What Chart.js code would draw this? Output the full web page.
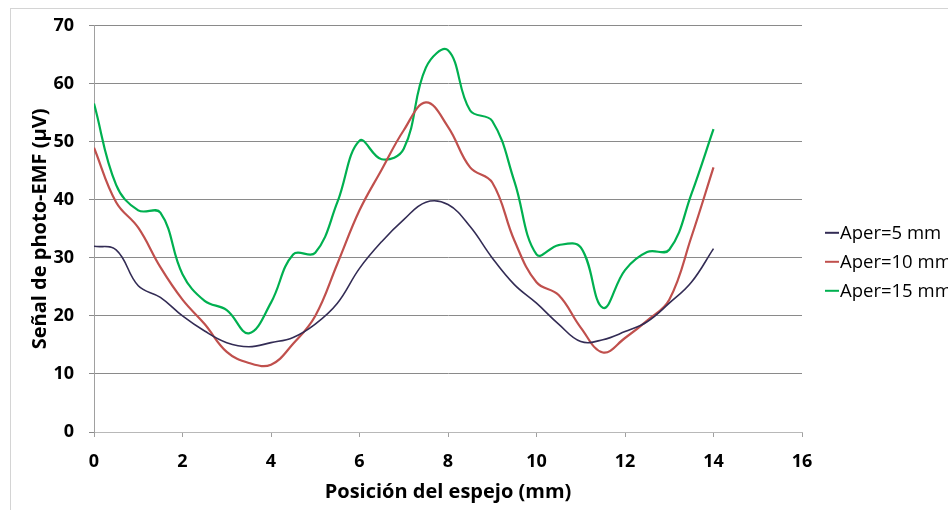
<!DOCTYPE html>
<html>
<head>
<meta charset="utf-8">
<script src="https://cdn.jsdelivr.net/npm/chart.js@4"></script>
<style>
  html, body { margin: 0; padding: 0; background: #fff; }
  #wrap { position: relative; width: 948px; height: 510px; }
  #frame {
    position: absolute; left: 10px; top: 8px; width: 960px; height: 520px;
    border-left: 1px solid #d4d4d4; border-top: 1px solid #d4d4d4;
  }
  canvas { position: absolute; left: 0; top: 0; }
</style>
</head>
<body>
<div id="wrap">
  <div id="frame"></div>
  <canvas id="chart" width="948" height="510"></canvas>
</div>
<script>
// mirror positions (mm), one reading every 0.5 mm
var positions = [0, 0.5, 1, 1.5, 2, 2.5, 3, 3.5, 4, 4.5, 5, 5.5, 6, 6.5, 7,
  7.5, 8, 8.5, 9, 9.5, 10, 10.5, 11, 11.5, 12, 12.5, 13, 13.5, 14];

// photo-EMF signal (µV) for each aperture
var aper5 = [32, 31.4, 25.2, 23.2, 20, 17.4, 15.4, 14.7, 15.4, 16.3, 18.6, 22.2, 28.2, 32.8, 36.6,
  39.6, 39.2, 35.4, 30, 25.4, 22.2, 18.6, 15.6, 15.9, 17.3, 19, 22.2, 25.8, 31.6];
var aper10 = [49, 39.6, 35.2, 28.4, 22.8, 18.6, 13.8, 11.9, 11.6, 15.2, 20, 29, 38.2, 45.2, 52,
  56.8, 52.6, 45.6, 43, 33, 25.8, 23.6, 18, 13.7, 16.2, 19.2, 22.8, 33.6, 45.6];
var aper15 = [56.6, 42.6, 38.2, 37.8, 27.2, 22.6, 21, 17, 22.3, 30.6, 30.9, 39.6, 50.2, 47, 48.8,
  62.8, 65.8, 55.4, 53.6, 43.2, 30.6, 32.2, 31.8, 21.4, 27.9, 31, 31.4, 41, 52.2];

var seriesLabels = ["Aper=5 mm", "Aper=10 mm", "Aper=15 mm"];
var seriesColors = ["#332c55", "#c0504d", "#00b050"];

var xTicks = [0, 2, 4, 6, 8, 10, 12, 14, 16];
var yTicks = [0, 10, 20, 30, 40, 50, 60, 70];

function toPoints(vals) {
  return vals.map(function (v, i) { return { x: positions[i], y: v }; });
}

var seriesValues = [aper5, aper10, aper15];
var datasets = seriesValues.map(function (vals, i) {
  return {
    label: seriesLabels[i],
    data: toPoints(vals),
    borderColor: seriesColors[i],
    borderWidth: i === 0 ? 1.6 : 2.2,
    pointRadius: 0,
    tension: 0.4,
    fill: false,
  };
});

var fontFamily = "'Open Sans', Lato, 'Liberation Sans', sans-serif";

// legend drawn beside the plot, like a spreadsheet chart
var sideLegend = {
  id: "sideLegend",
  afterDraw: function (chart) {
    var ctx = chart.ctx;
    var area = chart.chartArea;
    ctx.save();
    ctx.font = "18.5px " + fontFamily;
    ctx.textBaseline = "middle";
    chart.data.datasets.forEach(function (ds, i) {
      var y = area.top + 207 + i * 29;
      var x = area.right + 23;
      ctx.strokeStyle = ds.borderColor;
      ctx.lineWidth = 2;
      ctx.beginPath();
      ctx.moveTo(x, y);
      ctx.lineTo(x + 14, y);
      ctx.stroke();
      ctx.fillStyle = "#000";
      ctx.fillText(ds.label, x + 15, y + 1);
    });
    ctx.restore();
  },
};

var tickFont = { family: fontFamily, size: 18, weight: "bold" };
var titleFont = { family: fontFamily, size: 20, weight: "bold" };

var ctx = document.getElementById("chart").getContext("2d");
var chart = new Chart(ctx, {
  type: "line",
  data: { datasets: datasets },
  plugins: [sideLegend],
  options: {
    responsive: false,
    animation: false,
    layout: { padding: { left: 10, top: 25, right: 146, bottom: 0 } },
    plugins: { legend: { display: false }, tooltip: { enabled: false } },
    scales: {
      x: {
        type: "linear",
        min: 0,
        max: 16,
        afterBuildTicks: function (axis) {
          axis.ticks = xTicks.map(function (v) { return { value: v }; });
        },
        afterFit: function (axis) { axis.height = 78; },
        // only the short marks under the axis, no vertical gridlines
        grid: { drawOnChartArea: false, drawTicks: true, tickLength: 5, color: "#a0a0a0" },
        border: { color: "#b8b8b8", width: 1 },
        ticks: { color: "#000", font: tickFont, padding: 14 },
        title: {
          display: true,
          text: "Posición del espejo (mm)",
          color: "#000",
          font: titleFont,
          padding: { top: 1, bottom: 6 },
        },
      },
      y: {
        min: 0,
        max: 70,
        afterBuildTicks: function (axis) {
          axis.ticks = yTicks.map(function (v) { return { value: v }; });
        },
        afterFit: function (axis) { axis.width = 84; },
        grid: { color: "#8a8a8a", lineWidth: 1, tickLength: 5 },
        border: { color: "#a0a0a0", width: 1 },
        ticks: { color: "#000", font: tickFont, padding: 15 },
        title: {
          display: true,
          text: "Señal de photo-EMF (µV)",
          color: "#000",
          font: titleFont,
          padding: { top: 18, bottom: 4 },
        },
      },
    },
  },
});
</script>
</body>
</html>
